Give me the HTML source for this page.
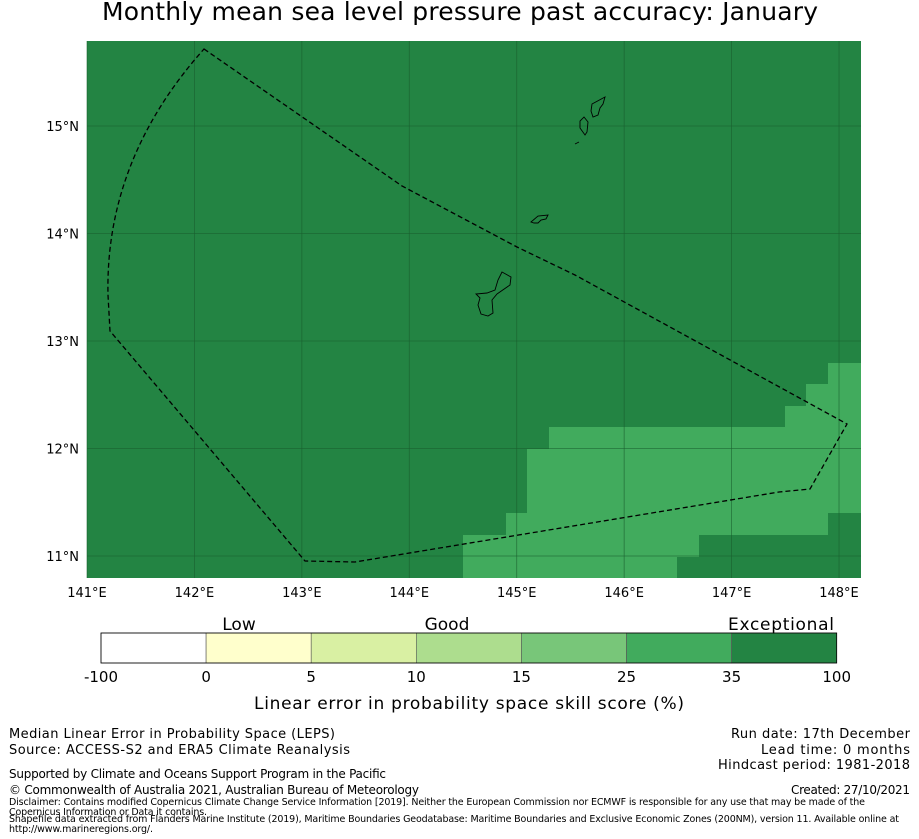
<!DOCTYPE html>
<html><head><meta charset="utf-8"><style>
body{margin:0;background:#fff;}
svg{display:block;font-family:"DejaVu Sans","Liberation Sans",sans-serif;}
</style></head><body>
<svg width="919" height="839" viewBox="0 0 919 839">
<text x="460" y="20" font-size="25" text-anchor="middle" textLength="716">Monthly mean sea level pressure past accuracy: January</text>
<g id="map">
<rect x="87" y="41" width="774" height="537" fill="#238443"/>
<path d="M828,363H861V513H828V535H699V557H677V578H463V535H506V513H527V449H549V427H785V406H806V384H828Z" fill="#41ab5d"/>
<g id="grid" stroke="#1a5e2e" stroke-width="0.8" stroke-opacity="0.7"></g>
<path d="M204,49 L402,186 L517,247 L575,275 L847,424 L810,489 L779,492 L355,562 L305,561 L110,331 L108,295 Q105,160 204,49 Z" fill="none" stroke="#000" stroke-width="1.3" stroke-dasharray="5,3"/>
<g fill="none" stroke="#000" stroke-width="0.9">
<path d="M502,272 L511,277 L510,285 L497,294 L492,300 L493,313 L488,316 L481,314 L478,305 L480,298 L476,294 L487,293 L495,290 L498,280 Z"/>
<path d="M531,222 L538,216 L548,215 L546,219 L541,220 L538,223 L534,223 Z"/>
<path d="M584,117 L588,122 L587,132 L585,135 L580,128 L580,121 Z"/>
<path d="M592,104 L605,97 L603,104 L600,108 L598,115 L593,117 L591,111 Z"/>
<path d="M575,144 L579,142"/>
</g>
<g id="xt" font-size="13" text-anchor="middle"></g>
<g id="yt" font-size="13" text-anchor="end"></g>
</g>
<g id="cbar"></g>
<text x="239" y="630" font-size="17" text-anchor="middle">Low</text>
<text x="447" y="630" font-size="17" text-anchor="middle">Good</text>
<text x="781" y="630" font-size="17" text-anchor="middle" textLength="106">Exceptional</text>
<text x="469" y="709" font-size="17" text-anchor="middle" textLength="430">Linear error in probability space skill score (%)</text>
<g font-size="13">
<text x="9" y="738" textLength="326">Median Linear Error in Probability Space (LEPS)</text>
<text x="9" y="754" textLength="341">Source: ACCESS-S2 and ERA5 Climate Reanalysis</text>
<text x="9" y="778" font-size="12" textLength="377">Supported by Climate and Oceans Support Program in the Pacific</text>
<text x="9" y="794" font-size="12" textLength="410">© Commonwealth of Australia 2021, Australian Bureau of Meteorology</text>
<text x="9" y="805" font-size="9.5" textLength="856">Disclaimer: Contains modified Copernicus Climate Change Service Information [2019]. Neither the European Commission nor ECMWF is responsible for any use that may be made of the</text>
<text x="9" y="815" font-size="9.5" textLength="198">Copernicus Information or Data it contains.</text>
<text x="9" y="822" font-size="9.5" textLength="890">Shapefile data extracted from Flanders Marine Institute (2019), Maritime Boundaries Geodatabase: Maritime Boundaries and Exclusive Economic Zones (200NM), version 11. Available online at</text>
<text x="9" y="832" font-size="9.5" textLength="144">http://www.marineregions.org/.</text>
<text x="910" y="738" text-anchor="end" textLength="179">Run date: 17th December</text>
<text x="910" y="754" text-anchor="end" textLength="149">Lead time: 0 months</text>
<text x="910" y="769" text-anchor="end" textLength="192">Hindcast period: 1981-2018</text>
<text x="910" y="794" font-size="12" text-anchor="end" textLength="119">Created: 27/10/2021</text>
</g>
</svg>
<script>
const lonTicks=[141,142,143,144,145,146,147,148];
const latTicks=[11,12,13,14,15];
const cbBounds=["-100","0","5","10","15","25","35","100"];
const cbColors=["#ffffff","#ffffcc","#d9f0a3","#addd8e","#78c679","#41ab5d","#238443"];
const NS="http://www.w3.org/2000/svg";
function xLon(l){return 87+(l-141)*107.43;}
function yLat(l){return 126+(15-l)*107.5;}
function mk(t,a,p){const e=document.createElementNS(NS,t);for(const k in a)e.setAttribute(k,a[k]);p.appendChild(e);return e;}
const grid=document.getElementById('grid'),xt=document.getElementById('xt'),yt=document.getElementById('yt');
lonTicks.forEach(l=>{const x=xLon(l);
 const ln=mk('line',{x1:x,x2:x,y1:41,y2:578},grid);
 
 
 const t=mk('text',{x:x,y:597},xt);t.textContent=l+'°E';
 
 });
latTicks.forEach(l=>{const y=yLat(l);
 const ln=mk('line',{x1:87,x2:861,y1:y,y2:y},grid);
 
 
 const t=mk('text',{x:79,y:y+5},yt);t.textContent=l+'°N';
 
 });
const cb=document.getElementById('cbar');const cx0=101,cw=105.1;
cbColors.forEach((c,i)=>{const r=mk('rect',{x:cx0+i*cw,y:633,width:cw,height:30,fill:c,stroke:'#555','stroke-width':0.6},cb);
 
 });
mk('rect',{x:cx0,y:633,width:cw*7,height:30,fill:'none',stroke:'#000','stroke-width':0.8},cb);
cbBounds.forEach((b,i)=>{const t=mk('text',{x:cx0+i*cw,y:682,'font-size':15,'text-anchor':'middle'},cb);t.textContent=b;
 
 });
</script>
</body></html>
